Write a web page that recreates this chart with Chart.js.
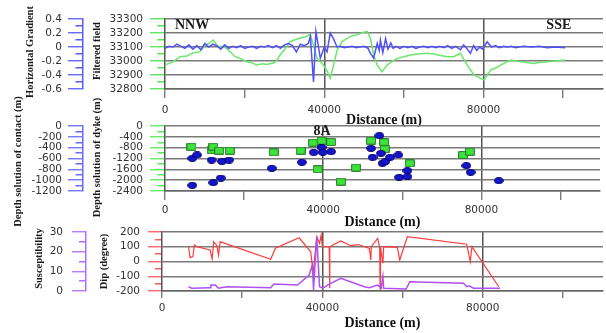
<!DOCTYPE html>
<html>
<head>
<meta charset="utf-8">
<script src="https://cdn.jsdelivr.net/npm/chart.js@4.4.1/dist/chart.umd.min.js"></script>
<style>
html, body { margin: 0; padding: 0; background: #fff; }
#wrap { position: relative; width: 606px; height: 333px; }
#wrap canvas { position: absolute; left: 0; top: 0; }
</style>
</head>
<body>
<div id="wrap">
  <canvas id="c1" width="606" height="333"></canvas>
  <canvas id="c2" width="606" height="333"></canvas>
  <canvas id="c3" width="606" height="333"></canvas>
</div>
<script>
// distance ticks shared by the three panels
const distTicks = [0, 20000, 40000, 60000, 80000, 100000];

// --- panel 1: filtered field + horizontal gradient ---
const gradDist = [0, 1000, 2000, 3000, 4000, 5000, 6000, 7000, 8000, 9000, 10000, 11000, 12000, 13000, 14000,
  15000, 16000, 17000, 18000, 19000, 20000, 21000, 22000, 23000, 24000, 25000, 26000, 27000, 28000, 29000,
  30000, 31000, 32000, 33000, 34000, 35000, 36000, 36500, 37300, 37900, 38400, 39000, 40000, 40700, 41500,
  42300, 43200, 44000, 45000, 46000, 47000, 48000, 49000, 50000, 51000, 51600, 52400, 53300, 53800, 54100,
  54700, 55400, 56000, 56700, 57300, 58000, 59000, 60000, 61000, 62000, 63000, 64000, 65000, 66000, 67000,
  68000, 69000, 70000, 71000, 72000, 73000, 74200, 75000, 75800, 76700, 77500, 78300, 79000, 79800, 80900,
  82000, 83000, 84000, 85000, 86000, 87000, 88000, 90000, 92000, 94000, 96000, 98000, 100500];
const gradVal = [-0.02, 0.01, 0.0, 0.04, 0.01, -0.02, 0.03, -0.03, 0.02, -0.04, 0.05, 0.0, 0.04, 0.02, -0.03,
  0.03, -0.02, 0.01, -0.01, 0.02, -0.02, 0.0, 0.01, -0.02, 0.01, 0.0, 0.02, -0.01, 0.02, -0.02,
  0.03, 0.05, 0.02, -0.07, 0.04, 0.02, 0.05, 0.15, -0.5, 0.22, 0.05, -0.16, 0.0, -0.07, 0.2,
  0.12, 0.0, 0.01, -0.01, 0.0, 0.01, -0.01, 0.0, 0.01, -0.02, -0.09, -0.16, 0.05, -0.05, 0.1,
  -0.08, 0.12, -0.03, 0.06, -0.02, 0.01, -0.02, 0.01, -0.01, 0.01, -0.02, 0.0, 0.01, -0.01, 0.01,
  -0.01, 0.01, -0.01, 0.02, -0.02, 0.01, -0.04, 0.03, -0.02, -0.09, 0.02, -0.05, 0.0, -0.03, 0.075,
  0.0, 0.02, -0.01, 0.01, 0.0, 0.01, -0.01, 0.01, 0.0, 0.01, -0.01, 0.0, -0.01];

const fieldDist = [0, 2100, 3800, 5500, 7000, 8800, 10100, 11000, 12100, 13400, 14500, 15500, 17600, 18900,
  20500, 22000, 23000, 24500, 25500, 27200, 28000, 28900, 30000, 31400, 32500, 34000, 35500, 36500, 37300,
  38200, 39000, 39800, 40700, 41500, 42300, 43200, 44500, 46500, 48000, 49900, 50800, 51600, 52400, 53300,
  54500, 55800, 57000, 58300, 60000, 61600, 63500, 65800, 67500, 69200, 71000, 72500, 74200, 75900, 77600,
  79000, 80100, 81000, 81800, 83000, 84300, 86800, 89300, 92600, 94000, 96000, 98000, 100500];
const fieldVal = [32971, 32995, 33031, 33035, 33057, 33067, 33114, 33125, 33150, 33100, 33105, 33090, 33031, 33019,
  32995, 32985, 32972, 32980, 32975, 32985, 33000, 33043, 33080, 33138, 33150, 33164, 33175, 33190, 33110,
  33019, 32995, 32971, 32930, 32877, 32965, 33075, 33140, 33174, 33185, 33205, 33210, 33162, 33043, 32971,
  32924, 32971, 32995, 33019, 33030, 33043, 33050, 33055, 33050, 33040, 33031, 33031, 33055, 32971, 32900,
  32880, 32864, 32900, 32936, 32950, 32971, 33007, 32995, 32983, 32990, 32995, 33000, 33007];

// --- panel 2: depth solutions ---
const contactDist = [6900, 8100, 11800, 14400, 16200, 6900, 12200, 14100, 27000, 34600, 37600, 39600, 39900,
  42000, 52100, 52500, 54200, 54600, 55000, 55700, 56900, 59000, 61300, 59200, 61300, 76200, 77300, 84400];
const contactDepth = [-597, -535, -628, -652, -628, -1095, -1046, -960, -781, -670, -486, -394, -486,
  -474, -412, -578, -178, -505, -689, -658, -578, -535, -825, -947, -935, -732, -855, -1009];

const dykeDist = [6700, 11800, 12200, 13700, 16400, 27500, 34300, 37400, 38600, 39600, 42000, 44500, 48300,
  52100, 55400, 55600, 61900, 75400, 77100];
const dykeDepth = [-764, -886, -764, -911, -911, -971, -911, -616, -1598, -542, -590, -2055, -1539,
  -540, -600, -850, -1377, -1070, -948];

// --- panel 3: dip and susceptibility ---
const dipDist = [6600, 7000, 7700, 8100, 8700, 12000, 12500, 12900, 13700, 14100, 14500, 15000, 27100, 28300,
  34200, 37100, 37700, 38600, 39300, 39700, 40000, 41700, 41800, 41900, 44600, 47100, 49000, 51700, 52100,
  52200, 53800, 54300, 54400, 54500, 55100, 55300, 58700, 59300, 61200, 76000, 76900, 77300, 79800, 84000];
const dipVal = [105, 26, 33, 112, 100, 78, 17, 134, 107, 44, 134, 130, 15, 90,
  161, 66, -80, 168, 123, 180, 100, 100, -182, 100, 139, 107, 115, 89, 10,
  100, 157, 100, -187, 100, -12, 100, 96, 10, 168, 117, -1, 100, -1, -171];

const suscDist = [6600, 7400, 12000, 12200, 13300, 14100, 16200, 27100, 27900, 33800, 36700, 37500, 37800,
  38600, 39300, 40100, 42100, 44600, 50500, 51700, 53800, 54700, 55100, 55300, 60900, 61800, 75200, 76000,
  76600, 77700, 84300];
const suscVal = [2.2, 1.4, 1.7, 3.0, 3.0, 1.4, 2.2, 1.7, 3.6, 3.0, 8.1, 13.2, 0.5,
  27.6, 2.2, 1.4, 3.9, 6.5, 2.2, 1.7, 3.0, 1.5, 7.3, 1.4, 1.0, 4.7, 4.0, 2.2,
  2.6, 1.4, 1.4];

const pts = (xs, ys) => xs.map((x, i) => ({x: x, y: ys[i]}));
const isMult = (v, m) => Math.abs(v / m - Math.round(v / m)) < 1e-6;
const tickFont = {family: 'DejaVu Sans', size: 10.5};

function yAxis(o) {
  const major = ctx => ctx.tick && isMult(ctx.tick.value, o.major);
  return {
    type: 'linear', position: 'left', weight: o.weight,
    min: o.min, max: o.max,
    afterFit: s => { s.width = o.width; },
    border: {display: true, color: o.border, width: 1.5},
    grid: {
      drawOnChartArea: !!o.grid,
      color: ctx => major(ctx) ? '#7a7a7a' : 'rgba(0,0,0,0)',
      lineWidth: 1.5,
      tickLength: o.tl,
      tickColor: o.color,
      tickWidth: 1.3,
      tickBorderDash: ctx => major(ctx) ? [] : [0, o.tl / 2, o.tl, 60]
    },
    ticks: {
      stepSize: o.step, autoSkip: false, padding: o.pad, color: '#333', font: tickFont,
      callback: v => isMult(v, o.major) ? String(Math.round(v * 10) / 10) : ''
    }
  };
}

function xAxis(tl, pad, h) {
  return {
    type: 'linear', position: 'bottom', min: 0, max: 110000,
    afterFit: s => { s.height = h; },
    afterBuildTicks: s => { s.ticks = distTicks.map(v => ({value: v})); },
    border: {color: '#666', width: 1.5},
    grid: {
      color: ctx => ctx.tick && (ctx.tick.value === 40000 || ctx.tick.value === 80000) ? '#555' : 'rgba(0,0,0,0)',
      lineWidth: 1.5, tickLength: tl, tickColor: '#666', tickWidth: 1.2
    },
    ticks: {
      autoSkip: false, maxRotation: 0, padding: pad,
      color: '#333', font: tickFont,
      callback: v => isMult(v, 40000) ? String(v) : ''
    },
    title: {display: true, text: 'Distance (m)', color: '#111',
      font: {family: 'Liberation Serif', size: 14, weight: 'bold'}, padding: {top: 0, bottom: 0.6}}
  };
}

// axis titles and text notes placed through the chart's scales
function decor(titles, notes) {
  return {
    id: 'decor',
    afterDraw(chart) {
      const ctx = chart.ctx, area = chart.chartArea;
      ctx.save();
      ctx.fillStyle = '#1a1a1a';
      ctx.textAlign = 'center';
      ctx.textBaseline = 'middle';
      ctx.font = 'bold 10.5px "Liberation Serif"';
      titles.forEach(t => {
        const s = chart.scales[t.axis];
        ctx.save();
        ctx.translate(s.left + t.dx, (area.top + area.bottom) / 2 + (t.dy || 0));
        ctx.rotate(-Math.PI / 2);
        ctx.fillText(t.text, 0, 0);
        ctx.restore();
      });
      ctx.font = 'bold 14px "Liberation Serif"';
      notes.forEach(n => {
        ctx.fillText(n.text, chart.scales.x.getPixelForValue(n.x), chart.scales[n.axis].getPixelForValue(n.y));
      });
      ctx.restore();
    }
  };
}

function marker(w, h, fill, stroke, round) {
  const c = document.createElement('canvas');
  c.width = w; c.height = h;
  const g = c.getContext('2d');
  g.beginPath();
  if (round) g.ellipse(w / 2, h / 2, w / 2 - 0.6, h / 2 - 0.6, 0, 0, Math.PI * 2);
  else g.rect(0.6, 0.6, w - 1.2, h - 1.2);
  g.fillStyle = fill; g.fill();
  g.lineWidth = 1; g.strokeStyle = stroke; g.stroke();
  return c;
}

const common = {
  responsive: false, animation: false, events: [],
  plugins: {legend: {display: false}, tooltip: {enabled: false}}
};

new Chart(document.getElementById('c1'), {
  type: 'line',
  data: {
    datasets: [
      {data: pts(gradDist, gradVal), yAxisID: 'yg', borderColor: '#5050ff', borderWidth: 1.5, pointRadius: 0},
      {data: pts(fieldDist, fieldVal), yAxisID: 'yf', borderColor: '#6be86b', borderWidth: 1.5, pointRadius: 0}
    ]
  },
  options: Object.assign({}, common, {
    layout: {padding: {top: 19, left: 0, right: 3, bottom: 204}},
    scales: {
      x: xAxis(9, 6, 40),
      yg: yAxis({weight: 2, min: -0.6, max: 0.4, step: 0.1, major: 0.2, width: 83, tl: 15, pad: 6,
        color: '#5a5aff', border: '#5a5aff'}),
      yf: yAxis({weight: 1, min: 32800, max: 33300, step: 50, major: 100, width: 82, tl: 15, pad: 7,
        color: '#4ee44e', border: '#555', grid: true})
    }
  }),
  plugins: [decor(
    [{axis: 'yg', dx: 30, dy: -2, text: 'Horizontal Gradient'}, {axis: 'yf', dx: 14, dy: -3, text: 'Filtered field'}],
    [{text: 'NNW', x: 6800, y: 33257, axis: 'yf'}, {text: 'SSE', x: 98900, y: 33257, axis: 'yf'}]
  )]
});

new Chart(document.getElementById('c2'), {
  type: 'scatter',
  data: {
    datasets: [
      {data: pts(contactDist, contactDepth), yAxisID: 'yc', pointRadius: 5,
        pointStyle: marker(10, 7, '#1616cc', '#000070', true)},
      {data: pts(dykeDist, dykeDepth), yAxisID: 'yd', pointRadius: 5,
        pointStyle: marker(10, 8, '#3de33d', '#2a7a2a', false)}
    ]
  },
  options: Object.assign({}, common, {
    layout: {padding: {top: 126, left: 0, right: 3, bottom: 102}},
    scales: {
      x: xAxis(9, 4, 40),
      yc: yAxis({weight: 2, min: -1200, max: 0, step: 100, major: 200, width: 83, tl: 15, pad: 6,
        color: '#6a6aff', border: '#6a6aff'}),
      yd: yAxis({weight: 1, min: -2400, max: 0, step: 200, major: 400, width: 82, tl: 15, pad: 7,
        color: '#55ee55', border: '#555', grid: true})
    }
  }),
  plugins: [decor(
    [{axis: 'yc', dx: 18, dy: 3, text: 'Depth solution of contact (m)'}, {axis: 'yd', dx: 14, dy: -1, text: 'Depth solution of dyke (m)'}],
    [{text: '8A', x: 39700, y: -185, axis: 'yd'}]
  )]
});

new Chart(document.getElementById('c3'), {
  type: 'line',
  data: {
    datasets: [
      {data: pts(suscDist, suscVal), yAxisID: 'ys', borderColor: '#b050f0', borderWidth: 1.5, pointRadius: 0},
      {data: pts(dipDist, dipVal), yAxisID: 'ydip', borderColor: '#ff3b3b', borderWidth: 1.2, pointRadius: 0}
    ]
  },
  options: Object.assign({}, common, {
    layout: {padding: {top: 232, left: 0, right: 3, bottom: 1}},
    scales: {
      x: xAxis(7, 4, 41),
      ys: yAxis({weight: 2, min: 0, max: 30, step: 5, major: 10, width: 86, tl: 14, pad: 9,
        color: '#b46cff', border: '#b46cff'}),
      ydip: yAxis({weight: 1, min: -200, max: 200, step: 50, major: 100, width: 76, tl: 14, pad: 8,
        color: '#ff5a5a', border: '#555', grid: true})
    }
  }),
  plugins: [decor(
    [{axis: 'ys', dx: 39, dy: -3, text: 'Susceptibility'}, {axis: 'ydip', dx: 18, dy: 0, text: 'Dip (degree)'}],
    []
  )]
});
</script>
</body>
</html>
